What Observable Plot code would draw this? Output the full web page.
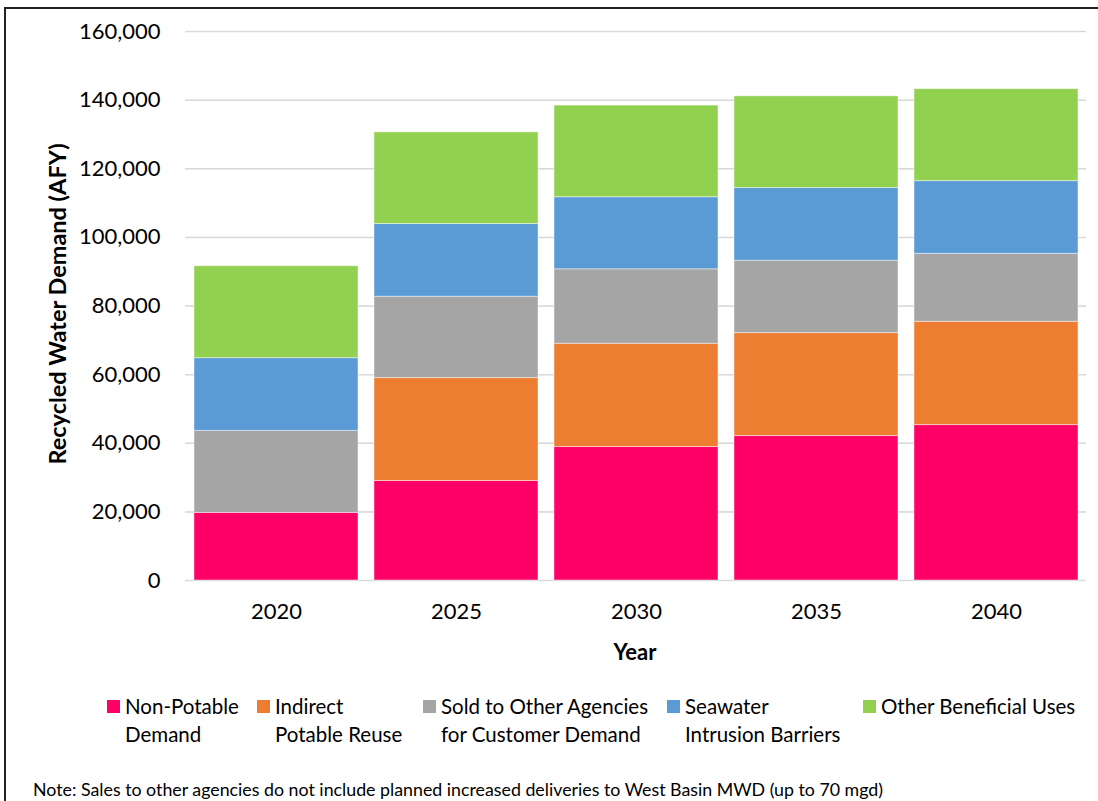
<!DOCTYPE html>
<html>
<head>
<meta charset="utf-8">
<script src="https://cdn.jsdelivr.net/npm/d3@7"></script>
<script src="https://cdn.jsdelivr.net/npm/@observablehq/plot@0.6"></script>
<style>
  html, body { margin: 0; padding: 0; background: #fff; }
  #wrap { position: relative; width: 1098px; height: 801px; overflow: hidden; font-family: Lato, "Open Sans", sans-serif; color: #000; }
  #frame { position: absolute; left: 4px; top: 7px; width: 2000px; height: 2000px; border-left: 2px solid #222; border-top: 2px solid #222; }
  #chart { position: absolute; left: 0; top: 0; }
  .ylab { position: absolute; left: 57px; top: 304px; transform: translate(-50%, -50%) rotate(-90deg); font-weight: bold; font-size: 23.5px; white-space: nowrap; }
  .xlab { position: absolute; left: 635px; top: 651px; transform: translate(-50%, -50%); font-weight: bold; font-size: 22px; }
  .leg { position: absolute; top: 692px; font-size: 20.5px; line-height: 28px; white-space: nowrap; }
  .sw { position: absolute; width: 13px; height: 13px; top: 8px; }
  .note { position: absolute; left: 33px; top: 778px; font-size: 17.8px; white-space: nowrap; }
</style>
</head>
<body>
<div id="wrap">
  <div id="frame"></div>
  <div id="chart"></div>
  <div class="ylab">Recycled Water Demand (AFY)</div>
  <div class="xlab">Year</div>
  <div id="legend"></div>
  <div class="note">Note: Sales to other agencies do not include planned increased deliveries to West Basin MWD (up to 70 mgd)</div>
</div>
<script>
const years = ["2020", "2025", "2030", "2035", "2040"];
const categories = ["Non-Potable Demand", "Indirect Potable Reuse", "Sold to Other Agencies for Customer Demand", "Seawater Intrusion Barriers", "Other Beneficial Uses"];
const legendLines = [["Non-Potable", "Demand"], ["Indirect", "Potable Reuse"], ["Sold to Other Agencies", "for Customer Demand"], ["Seawater", "Intrusion Barriers"], ["Other Beneficial Uses"]];
const colors = ["#FF0066", "#ED7D31", "#A5A5A5", "#5B9BD5", "#92D050"];
const nonPotable = [19700, 29000, 38900, 42100, 45300];
const indirectPotable = [0, 30000, 30100, 30000, 30100];
const soldOther = [23900, 23700, 21700, 21100, 19800];
const seawater = [21200, 21200, 21000, 21200, 21200];
const otherUses = [26800, 26700, 26700, 26700, 26800];
const yTicks = [0, 20000, 40000, 60000, 80000, 100000, 120000, 140000, 160000];

const series = [nonPotable, indirectPotable, soldOther, seawater, otherUses];
const data = [];
years.forEach((yr, i) => {
  categories.forEach((c, j) => data.push({year: yr, category: c, value: series[j][i]}));
});

const fmt = d3.format(",");
const plot = Plot.plot({
  width: 1098,
  height: 640,
  marginLeft: 185,
  marginRight: 12,
  marginTop: 31,
  marginBottom: 60,
  style: { fontFamily: "Lato, 'Open Sans', sans-serif", fontSize: "22px", color: "#000", background: "transparent" },
  x: { domain: years, paddingInner: 0.09, paddingOuter: 0.045, label: null, tickSize: 0, tickPadding: 23 },
  y: { domain: [0, 160000], ticks: yTicks, tickFormat: fmt, label: null, tickSize: 0, tickPadding: 25, grid: true },
  color: { domain: categories, range: colors },
  marks: [
    Plot.gridY(yTicks, { stroke: "#d9d9d9", strokeOpacity: 1, strokeWidth: 1.5 }),
    Plot.barY(data, { x: "year", y: "value", fill: "category", order: categories, stroke: "#ffffff", strokeOpacity: 0.45, strokeWidth: 1 })
  ]
});
document.getElementById("chart").appendChild(plot);

const legendX = [107, 257, 423, 667, 863];
const legend = document.getElementById("legend");
categories.forEach((c, i) => {
  const item = document.createElement("div");
  item.className = "leg";
  item.style.left = legendX[i] + "px";
  const sw = document.createElement("div");
  sw.className = "sw";
  sw.style.background = colors[i];
  item.appendChild(sw);
  const txt = document.createElement("div");
  txt.style.marginLeft = "18px";
  txt.innerHTML = legendLines[i].join("<br>");
  item.appendChild(txt);
  legend.appendChild(item);
});
</script>
</body>
</html>
